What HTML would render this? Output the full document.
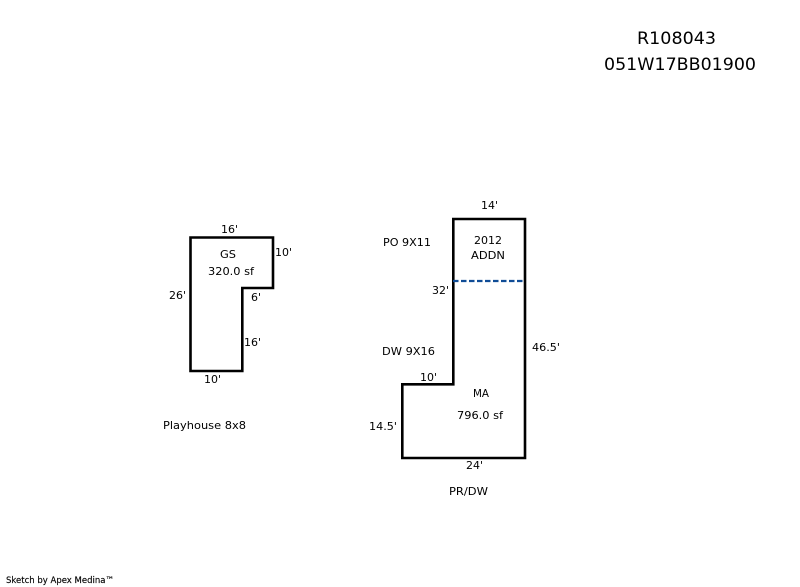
<!DOCTYPE html>
<html>
<head>
<meta charset="utf-8">
<style>
html,body{margin:0;padding:0;background:#fff;width:800px;height:587px;overflow:hidden}
svg{display:block}
text{font-family:"DejaVu Sans","Liberation Sans",sans-serif;font-size:11px;fill:#000}
.t{font-size:17px}
.s{font-size:9px;stroke:#000;stroke-width:.15px}
</style>
</head>
<body>
<svg width="800" height="587" viewBox="0 0 800 587" xmlns="http://www.w3.org/2000/svg">
<rect width="800" height="587" fill="#fff"/>
<polygon points="190.5,237.5 273,237.5 273,288 242.3,288 242.3,371 190.5,371" fill="none" stroke="#000" stroke-width="2.6"/>
<polygon points="453.3,219 525,219 525,458 402.3,458 402.3,384.3 453.3,384.3" fill="none" stroke="#000" stroke-width="2.6"/>
<line x1="453" y1="281" x2="523" y2="281" stroke="#0f4c96" stroke-width="2.2" stroke-dasharray="5.5 2.5"/>

<text class="t" x="637" y="44" textLength="79" lengthAdjust="spacingAndGlyphs">R108043</text>
<text class="t" x="604" y="70" textLength="152" lengthAdjust="spacingAndGlyphs">051W17BB01900</text>

<text x="221" y="233" textLength="17" lengthAdjust="spacingAndGlyphs">16'</text>
<text x="220" y="258" textLength="16" lengthAdjust="spacingAndGlyphs">GS</text>
<text x="208" y="275" textLength="46" lengthAdjust="spacingAndGlyphs">320.0 sf</text>
<text x="275" y="256" textLength="17" lengthAdjust="spacingAndGlyphs">10'</text>
<text x="169" y="299" textLength="17" lengthAdjust="spacingAndGlyphs">26'</text>
<text x="251" y="301" textLength="10" lengthAdjust="spacingAndGlyphs">6'</text>
<text x="244" y="346" textLength="17" lengthAdjust="spacingAndGlyphs">16'</text>
<text x="204" y="383" textLength="17" lengthAdjust="spacingAndGlyphs">10'</text>
<text x="163" y="429" textLength="83" lengthAdjust="spacingAndGlyphs">Playhouse 8x8</text>

<text x="481" y="209" textLength="17" lengthAdjust="spacingAndGlyphs">14'</text>
<text x="383" y="246" textLength="48" lengthAdjust="spacingAndGlyphs">PO 9X11</text>
<text x="474" y="244" textLength="28" lengthAdjust="spacingAndGlyphs">2012</text>
<text x="471" y="259" textLength="34" lengthAdjust="spacingAndGlyphs">ADDN</text>
<text x="432" y="294" textLength="17" lengthAdjust="spacingAndGlyphs">32'</text>
<text x="532" y="351" textLength="28" lengthAdjust="spacingAndGlyphs">46.5'</text>
<text x="382" y="355" textLength="53" lengthAdjust="spacingAndGlyphs">DW 9X16</text>
<text x="420" y="381" textLength="17" lengthAdjust="spacingAndGlyphs">10'</text>
<text x="473" y="397" textLength="16" lengthAdjust="spacingAndGlyphs">MA</text>
<text x="457" y="419" textLength="46" lengthAdjust="spacingAndGlyphs">796.0 sf</text>
<text x="369" y="430" textLength="28" lengthAdjust="spacingAndGlyphs">14.5'</text>
<text x="466" y="469" textLength="17" lengthAdjust="spacingAndGlyphs">24'</text>
<text x="449" y="495" textLength="39" lengthAdjust="spacingAndGlyphs">PR/DW</text>

<text class="s" x="6" y="583" textLength="108" lengthAdjust="spacingAndGlyphs">Sketch by Apex Medina™</text>
</svg>
</body>
</html>
